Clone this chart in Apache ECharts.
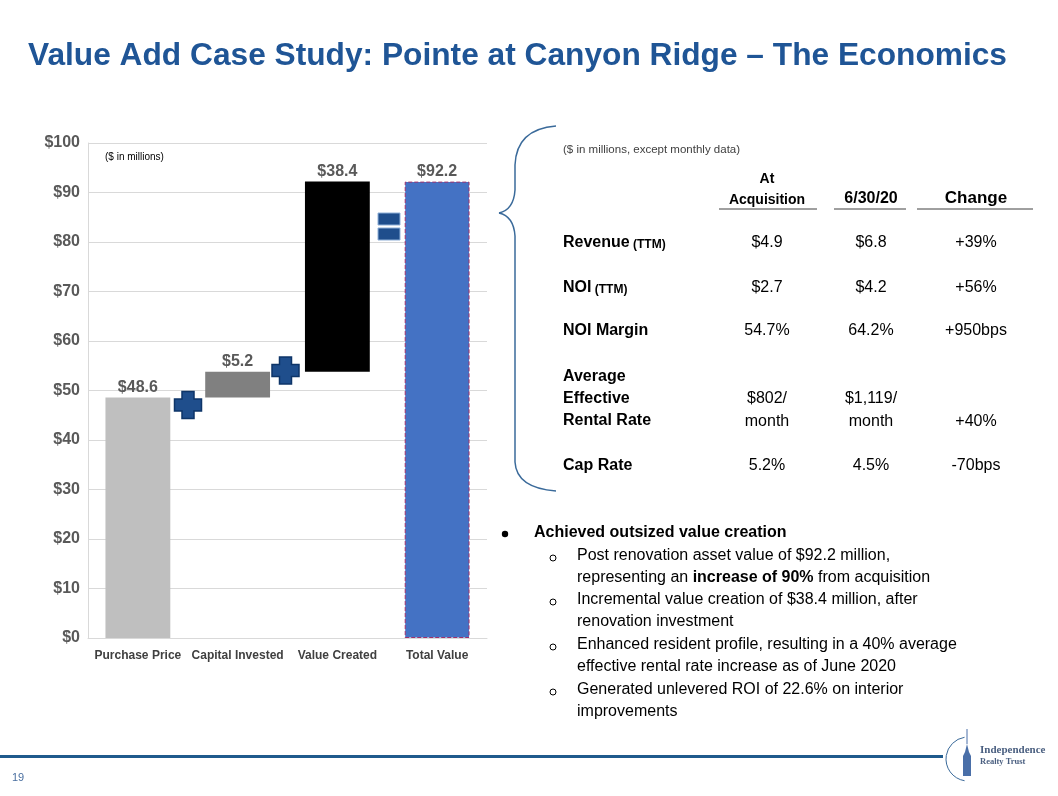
<!DOCTYPE html>
<html>
<head>
<meta charset="utf-8">
<script src="https://cdn.jsdelivr.net/npm/echarts@6/dist/echarts.min.js"></script>
<style>
html,body{margin:0;padding:0;background:#fff;}
#main{width:1058px;height:796px;}
</style>
</head>
<body>
<div id="main"></div>
<script>
// ---- data ----
const categories = ['Purchase Price', 'Capital Invested', 'Value Created', 'Total Value'];
const stepValues = [48.6, 5.2, 38.4, 92.2];
const isTotal = [false, false, false, true];
const barColors = ['#BFBFBF', '#808080', '#000000', '#4472C4'];
const yTicks = [0, 10, 20, 30, 40, 50, 60, 70, 80, 90, 100];

const tableCols = ['At\nAcquisition', '6/30/20', 'Change'];
const tableRowLabels = ['Revenue', 'NOI', 'NOI Margin', 'Average\nEffective\nRental Rate', 'Cap Rate'];
const tableRowSuffix = [' (TTM)', ' (TTM)', '', '', ''];
const colAcq = ['$4.9', '$2.7', '54.7%', '$802/\nmonth', '5.2%'];
const col630 = ['$6.8', '$4.2', '64.2%', '$1,119/\nmonth', '4.5%'];
const colChange = ['+39%', '+56%', '+950bps', '+40%', '-70bps'];

// ---- waterfall bases ----
const bases = [];
let run = 0;
stepValues.forEach((v, i) => {
  if (isTotal[i]) { bases.push(0); }
  else { bases.push(run); run += v; }
});

const FONT = '"Liberation Sans", Arial, sans-serif';
const SERIF = '"Liberation Serif", "DejaVu Serif", serif';
const chart = echarts.init(document.getElementById('main'));

function txt(x, y, text, size, opts) {
  opts = opts || {};
  return {
    type: 'text', x: x, y: y, silent: true,
    style: {
      text: text,
      font: (opts.bold ? 'bold ' : '') + size + 'px ' + (opts.family || FONT),
      fill: opts.color || '#000',
      textAlign: opts.align || 'left',
      textVerticalAlign: 'middle'
    }
  };
}
function line(x1, y1, x2, y2, color, w) {
  return { type: 'line', silent: true, shape: { x1: x1, y1: y1, x2: x2, y2: y2 }, style: { stroke: color, lineWidth: w } };
}
function bez(x1, y1, cx1, cy1, cx2, cy2, x2, y2, color, w) {
  return { type: 'bezierCurve', silent: true, shape: { x1: x1, y1: y1, cpx1: cx1, cpy1: cy1, cpx2: cx2, cpy2: cy2, x2: x2, y2: y2 }, style: { stroke: color, lineWidth: w, fill: null } };
}
function plus(cx, cy) {
  const a = 13.5, t = 6;
  const pts = [[cx - t, cy - a], [cx + t, cy - a], [cx + t, cy - t], [cx + a, cy - t], [cx + a, cy + t], [cx + t, cy + t],
               [cx + t, cy + a], [cx - t, cy + a], [cx - t, cy + t], [cx - a, cy + t], [cx - a, cy - t], [cx - t, cy - t]];
  return { type: 'polygon', silent: true, z: 10, shape: { points: pts }, style: { fill: '#1F4E8C', stroke: '#0E3568', lineWidth: 1.5 } };
}

const graphics = [];
// title
graphics.push(txt(28, 56, 'Value Add Case Study: Pointe at Canyon Ridge \u2013 The Economics', 31.7, { bold: true, color: '#1F5596' }));
// chart note
graphics.push(txt(105, 157, '($ in millions)', 10, { color: '#000' }));
// operators
graphics.push(plus(188, 405));
graphics.push(plus(285.5, 370.5));
graphics.push({ type: 'rect', silent: true, shape: { x: 378, y: 213, width: 22, height: 12 }, style: { fill: '#1F4E8C', stroke: '#8FB0D8', lineWidth: 1 } });
graphics.push({ type: 'rect', silent: true, shape: { x: 378, y: 228, width: 22, height: 12 }, style: { fill: '#1F4E8C', stroke: '#8FB0D8', lineWidth: 1 } });
// brace
const BC = '#3A6A9A';
graphics.push(bez(556, 126, 530, 128, 516, 140, 515, 165, BC, 1.5));
graphics.push(line(515, 165, 515, 190, BC, 1.5));
graphics.push(bez(515, 190, 514, 205, 508, 211, 499, 213, BC, 1.5));
graphics.push(bez(499, 213, 508, 215, 514, 221, 515, 236, BC, 1.5));
graphics.push(line(515, 236, 515, 462, BC, 1.5));
graphics.push(bez(515, 462, 516, 480, 530, 489, 556, 491, BC, 1.5));
// table
graphics.push(txt(563, 150, '($ in millions, except monthly data)', 11.5, { color: '#404040' }));
const colX = [767, 871, 976];
graphics.push(txt(colX[0], 179, 'At', 14, { bold: true, align: 'center' }));
graphics.push(txt(colX[0], 200, 'Acquisition', 14, { bold: true, align: 'center' }));
graphics.push(txt(colX[1], 199, tableCols[1], 16, { bold: true, align: 'center' }));
graphics.push(txt(colX[2], 198, tableCols[2], 17, { bold: true, align: 'center' }));
graphics.push(line(719, 209, 817, 209, '#404040', 1));
graphics.push(line(834, 209, 906, 209, '#404040', 1));
graphics.push(line(917, 209, 1033, 209, '#404040', 1));
const rowY = [243, 288, 331, 399, 466];
tableRowLabels.forEach((lab, i) => {
  if (i === 3) {
    lab.split('\n').forEach((p, k) => graphics.push(txt(563, 377 + k * 22, p, 16, { bold: true })));
  } else if (tableRowSuffix[i]) {
    graphics.push({
      type: 'text', x: 563, y: rowY[i], silent: true,
      style: {
        text: '{a|' + lab + '}{b|' + tableRowSuffix[i] + '}',
        textVerticalAlign: 'middle',
        rich: {
          a: { font: 'bold 16px ' + FONT, fill: '#000' },
          b: { font: 'bold 12px ' + FONT, fill: '#000', padding: [3, 0, 0, 0] }
        }
      }
    });
  } else {
    graphics.push(txt(563, rowY[i], lab, 16, { bold: true }));
  }
  [colAcq, col630].forEach((col, c) => {
    const parts = col[i].split('\n');
    if (parts.length === 2) {
      graphics.push(txt(colX[c], 399, parts[0], 16, { align: 'center' }));
      graphics.push(txt(colX[c], 422, parts[1], 16, { align: 'center' }));
    } else {
      graphics.push(txt(colX[c], rowY[i], parts[0], 16, { align: 'center' }));
    }
  });
  graphics.push(txt(colX[2], i === 3 ? 422 : rowY[i], colChange[i], 16, { align: 'center' }));
});
// bullets
graphics.push({ type: 'circle', silent: true, shape: { cx: 505, cy: 534, r: 3.2 }, style: { fill: '#000' } });
graphics.push(txt(534, 533, 'Achieved outsized value creation', 16, { bold: true }));
const subLines = [
  [556, true, 'Post renovation asset value of $92.2 million,'],
  [578, false, null],
  [600, true, 'Incremental value creation of $38.4 million, after'],
  [622, false, 'renovation investment'],
  [645, true, 'Enhanced resident profile, resulting in a 40% average'],
  [667, false, 'effective rental rate increase as of June 2020'],
  [690, true, 'Generated unlevered ROI of 22.6% on interior'],
  [712, false, 'improvements']
];
subLines.forEach(s => {
  if (s[1]) graphics.push({ type: 'circle', silent: true, shape: { cx: 553, cy: s[0] + 2, r: 3 }, style: { fill: null, stroke: '#000', lineWidth: 1 } });
  if (s[2]) graphics.push(txt(577, s[0], s[2], 16, {}));
});
graphics.push({
  type: 'text', x: 577, y: 578, silent: true,
  style: {
    text: '{a|representing an }{b|increase of 90%}{a| from acquisition}',
    textVerticalAlign: 'middle',
    rich: {
      a: { font: '16px ' + FONT, fill: '#000' },
      b: { font: 'bold 16px ' + FONT, fill: '#000' }
    }
  }
});
// footer
graphics.push({ type: 'rect', silent: true, shape: { x: 0, y: 755, width: 943, height: 3 }, style: { fill: '#1F5A8C' } });
graphics.push(txt(12, 778, '19', 11, { color: '#4A6FA0' }));
graphics.push({ type: 'arc', silent: true, shape: { cx: 968, cy: 759, r: 22, startAngle: Math.PI * 0.55, endAngle: Math.PI * 1.45 }, style: { stroke: '#3A6A9A', lineWidth: 1, fill: null } });
graphics.push({ type: 'polygon', silent: true, shape: { points: [[963, 776], [963, 756], [965, 752], [967, 744], [969, 752], [971, 756], [971, 776]] }, style: { fill: '#4A6FA8' } });
graphics.push(line(967, 729, 967, 744, '#4A6FA8', 1));
graphics.push(txt(980, 750, 'Independence', 11, { bold: true, color: '#4A5F80', family: SERIF }));
graphics.push(txt(980, 762, 'Realty Trust', 8.5, { bold: true, color: '#4A5F80', family: SERIF }));

const option = {
  animation: false,
  backgroundColor: '#fff',
  grid: { left: 88, right: 571, top: 143, bottom: 158 },
  xAxis: {
    type: 'category',
    data: categories,
    axisLine: { show: true, lineStyle: { color: '#D9D9D9' } },
    axisTick: { show: false },
    axisLabel: { fontFamily: FONT, fontWeight: 'bold', fontSize: 12, color: '#404040', margin: 12, interval: 0 }
  },
  yAxis: {
    type: 'value',
    min: yTicks[0], max: yTicks[yTicks.length - 1], interval: 10,
    axisLine: { show: true, lineStyle: { color: '#D9D9D9' } },
    axisTick: { show: false },
    splitLine: { lineStyle: { color: '#D9D9D9' } },
    axisLabel: { fontFamily: FONT, fontWeight: 'bold', fontSize: 16, color: '#595959', margin: 8, formatter: v => '$' + v }
  },
  series: [
    {
      type: 'bar', stack: 'wf', silent: true,
      data: bases,
      itemStyle: { color: 'transparent' },
      barCategoryGap: '35%'
    },
    {
      type: 'bar', stack: 'wf',
      data: stepValues.map((v, i) => ({
        value: v,
        itemStyle: isTotal[i]
          ? { color: barColors[i], borderColor: '#A0306A', borderWidth: 1, borderType: 'dashed' }
          : { color: barColors[i] }
      })),
      barCategoryGap: '35%',
      label: {
        show: true, position: 'top', distance: 2,
        fontFamily: FONT, fontWeight: 'bold', fontSize: 16, color: '#595959',
        formatter: p => '$' + p.value.toFixed(1)
      }
    }
  ],
  graphic: graphics
};
chart.setOption(option);
</script>
</body>
</html>
